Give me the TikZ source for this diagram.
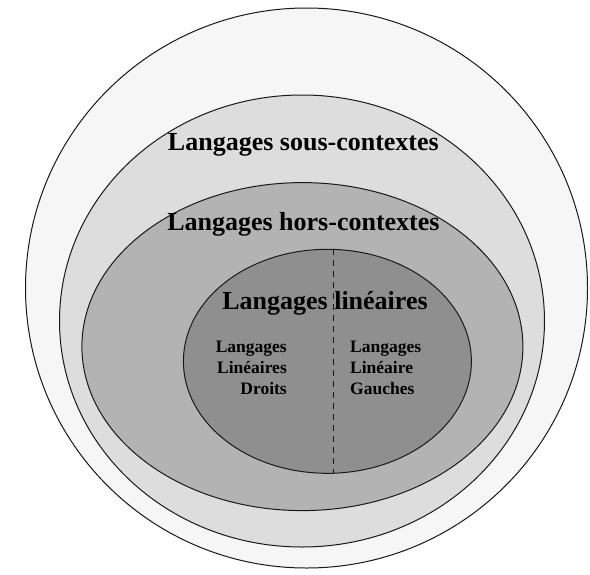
\documentclass[tikz,border=0pt]{standalone}
\usepackage{fontspec}
\setmainfont{Liberation Serif}
\usepackage{tikz}
\usepackage{xcolor}
\usetikzlibrary{shapes.geometric}
\definecolor{lgedge}{RGB}{25,25,25}
\definecolor{lgouter}{RGB}{246,246,246}
\definecolor{lgsous}{RGB}{221,221,221}
\definecolor{lghors}{RGB}{179,179,179}
\definecolor{lglin}{RGB}{143,143,143}
\tikzset{
  lgzone/.style={draw=lgedge, line width=1pt, ellipse, inner sep=0pt},
  lgtitle/.style={font=\bfseries\fontsize{26}{30}\selectfont, anchor=base, inner sep=0pt},
  lgsmall/.style={font=\bfseries\fontsize{17.5}{21}\selectfont, inner sep=0pt},
  lgsplit/.style={draw=lgedge, line width=1.2pt, dashed, dash pattern=on 6pt off 5pt}
}
\begin{document}
\begin{tikzpicture}[x=1pt, y=-1pt]
  \useasboundingbox[fill=white] (0,0) rectangle (590,574);
  \node[lgzone, fill=lgouter, minimum width=562pt, minimum height=560pt] (outer) at (306.5,288) {};
  \node[lgzone, fill=lgsous, minimum width=485pt, minimum height=452pt] (sous) at (302,321) {};
  \node[lgzone, fill=lghors, minimum width=441pt, minimum height=328pt] (hors) at (302.4,346.6) {};
  \node[lgzone, fill=lglin, minimum width=288pt, minimum height=224pt] (lin) at (327.4,361.3) {};
  \draw[lgsplit] (lin.87.3) -- (lin.-87.3);
  \node[lgtitle] (sousname) at (303.4,150.7) {Langages sous-contextes};
  \node[lgtitle] (horsname) at (303.4,230.7) {Langages hors-contextes};
  \node[lgtitle] (linname) at (325,309) {Langages linéaires};
  \node[lgsmall, align=right, anchor=north east] (droits) at (287,341) {Langages\\Linéaires\\Droits};
  \node[lgsmall, align=left, anchor=north west] (gauches) at (350,341) {Langages\\Linéaire\\Gauches};
\end{tikzpicture}
\end{document}
